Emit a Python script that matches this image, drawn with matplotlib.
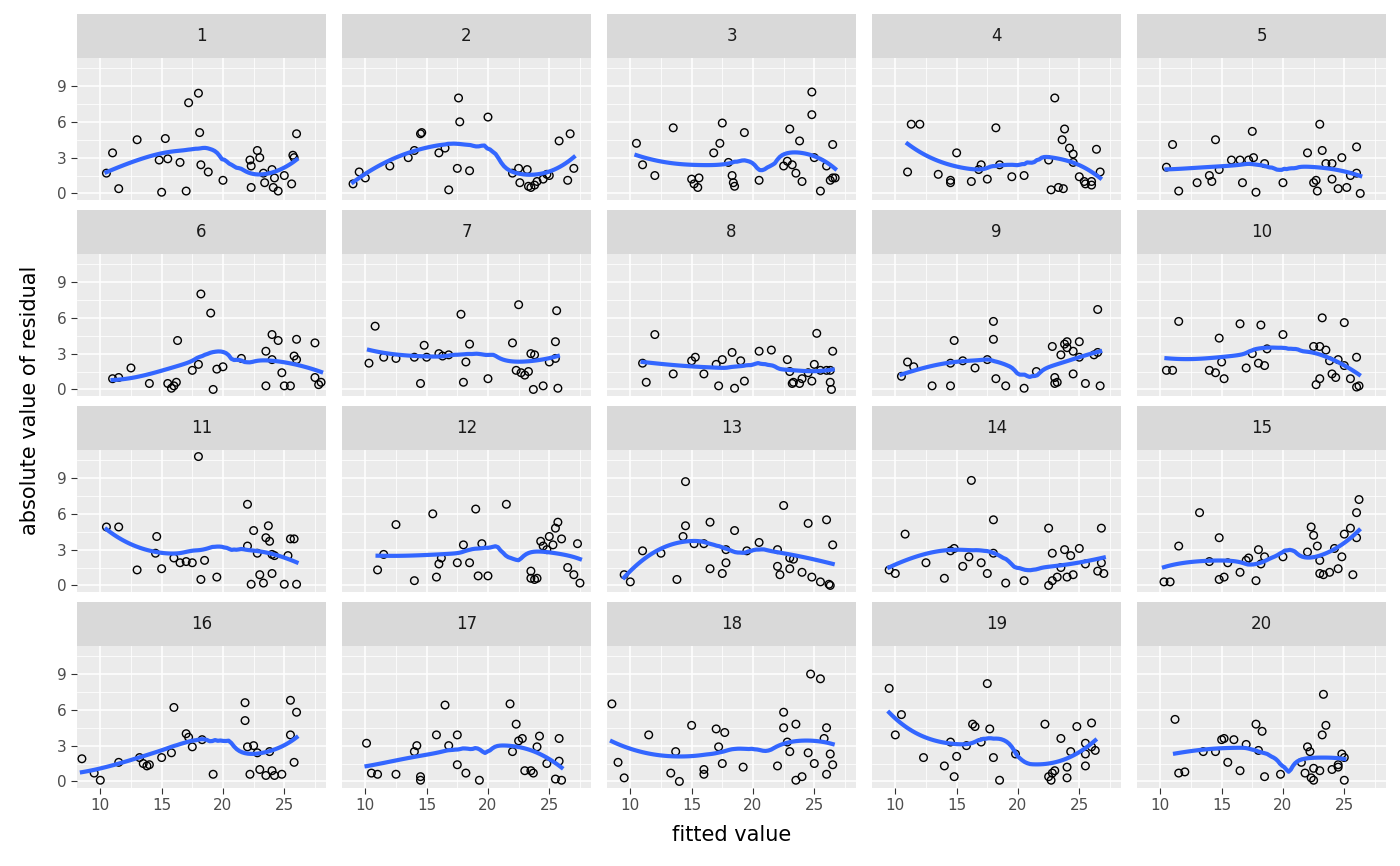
import numpy as np
import matplotlib.pyplot as plt

# fitted value / |residual| pairs per panel
fit = {}
res = {}
fit[1] = [10.5,11,11.5,13,14.8,15,15.3,15.5,16.5,17,17.2,18,18.1,18.2,18.8,20,22.2,22.3,22.3,22.8,23,23.3,23.4,24,24.1,24.5,25,25.7,25.8,25.6,26,24.2]
res[1] = [1.7,3.4,0.4,4.5,2.8,0.1,4.6,2.9,2.6,0.2,7.6,8.4,5.1,2.4,1.8,1.1,2.8,0.5,2.3,3.6,3.0,1.7,0.9,2.0,0.5,0.2,1.5,3.2,3.0,0.8,5.0,1.3]
fit[2] = [9,9.5,10,12,13.5,14,14.5,14.6,16,16.5,16.8,17.5,17.6,17.7,18.5,20,22,22.5,22.6,23.2,23.5,23.8,24,24.5,24.8,25,25.8,26.5,26.7,27,23.3]
res[2] = [0.8,1.8,1.3,2.3,3.0,3.6,5.0,5.1,3.4,3.8,0.3,2.1,8.0,6.0,1.9,6.4,1.7,2.1,0.9,2.0,0.5,0.7,1.0,1.2,1.6,1.5,4.4,1.1,5.0,2.1,0.6]
fit[3] = [10.5,11,12,13.5,15,15.2,15.5,15.6,16.8,17.3,17.5,18,18.3,18.4,18.5,19.3,20.5,22.5,22.8,23,23.2,23.5,23.8,24,24.8,24.8,25,25.5,26,26.3,26.5,26.5,26.7]
res[3] = [4.2,2.4,1.5,5.5,1.2,0.8,0.5,1.3,3.4,4.2,5.9,2.6,1.5,0.9,0.6,5.1,1.1,2.3,2.7,5.4,2.4,1.7,4.4,1.0,8.5,6.6,3.0,0.2,2.3,1.1,1.3,4.1,1.3]
fit[4] = [11,11.3,12,13.5,14.5,14.5,15,16.2,16.8,17,17.5,18.2,18.5,19.5,20.5,22.5,22.7,23,23.3,23.7,23.6,23.8,24.2,24.5,24.5,25,25.5,26,26,26.4,26.7,25.4]
res[4] = [1.8,5.8,5.8,1.6,1.1,0.9,3.4,1.0,2.0,2.4,1.2,5.5,2.4,1.4,1.5,2.8,0.3,8.0,0.5,0.4,4.5,5.4,3.8,3.3,2.6,1.4,0.8,1.0,0.7,3.7,1.8,1.0]
fit[5] = [10.5,11,11.5,13,14,14.2,14.5,14.8,15.8,16.5,16.7,17.2,17.5,17.6,17.8,18.5,20,22,22.5,22.7,22.8,23,23.2,23.5,24,24.5,24.8,25.2,25.5,26,26,26.3,24]
res[5] = [2.2,4.1,0.2,0.9,1.5,1.0,4.5,2.0,2.8,2.8,0.9,2.8,5.2,3.0,0.1,2.5,0.9,3.4,0.9,1.1,0.2,5.8,3.6,2.5,1.2,0.4,3.0,0.5,1.5,1.7,3.9,0.0,2.5]
fit[6] = [11,11.5,12.5,14,15.5,15.8,16,16.2,16.3,17.5,18,18.2,19,19.2,19.5,20,21.5,23.5,23.5,24,24,24.5,24.8,25,25.5,25.8,26,26,27.5,27.5,27.8,28]
res[6] = [0.9,1.0,1.8,0.5,0.5,0.1,0.3,0.6,4.1,1.6,2.1,8.0,6.4,0.0,1.7,1.9,2.6,3.2,0.3,4.6,2.5,4.1,1.4,0.3,0.3,2.8,4.2,2.5,3.9,1.0,0.4,0.6]
fit[7] = [10.3,10.8,11.5,12.5,14,14.5,14.8,15,16,16.3,16.8,17.8,18,18.2,18.5,20,22,22.3,22.5,22.7,23,23.3,23.5,23.7,23.8,24.5,25,25.5,25.6,25.7,25.5]
res[7] = [2.2,5.3,2.7,2.6,2.7,0.5,3.7,2.7,3.0,2.8,2.9,6.3,0.6,2.3,3.8,0.9,3.9,1.6,7.1,1.4,1.2,1.5,3.0,0.0,2.9,0.3,2.3,4.0,6.6,0.1,2.6]
fit[8] = [11,11.3,12,13.5,15,15.3,16,17,17.2,17.5,18.3,18.5,19,19.3,20.5,21.5,22.8,23,23.2,23.3,23.8,24,24.5,24.8,25,25.2,25.5,26,26.3,26.4,26.5,26.3]
res[8] = [2.2,0.6,4.6,1.3,2.4,2.7,1.3,2.1,0.3,2.5,3.1,0.1,2.4,0.7,3.2,3.3,2.5,1.5,0.5,0.6,0.5,0.9,1.4,0.7,2.1,4.7,1.6,1.6,0.6,0.0,3.2,1.6]
fit[9] = [10.5,11,11.5,13,14.5,14.5,14.8,15.5,16.5,17.5,18,18,18.2,19,20.5,21.5,22.8,23,23,23.2,23.5,23.8,24,24,24.5,24.5,25,25,25.5,26.2,26.5,26.7,26.5]
res[9] = [1.1,2.3,1.9,0.3,0.3,2.2,4.1,2.4,1.8,2.5,5.7,4.2,0.9,0.3,0.1,1.5,3.6,1.0,0.5,0.6,2.9,3.8,4.0,3.5,3.2,1.3,2.7,4.0,0.5,2.9,6.7,0.3,3.1]
fit[10] = [10.5,11,11.5,14,14.5,14.8,15,15.2,16.5,17,17.5,18,18.2,18.5,18.7,20,22.5,22.7,23,23,23.2,23.5,23.8,24,24.3,24.5,25,25,25.5,26,26,26.2]
res[10] = [1.6,1.6,5.7,1.6,1.4,4.3,2.3,0.9,5.5,1.8,3.0,2.2,5.4,2.0,3.4,4.6,3.6,0.4,0.9,3.6,6.0,3.3,2.4,1.3,1.0,2.5,5.6,2.0,0.9,2.7,0.2,0.3]
fit[11] = [10.5,11.5,13,14.5,14.6,15,16,16.5,17,17.5,18,18.2,18.5,19.5,22,22,22.3,22.5,22.8,23,23.3,23.5,23.7,24,24,24.2,25,25.3,25.5,25.8,26,23.8]
res[11] = [4.9,4.9,1.3,2.7,4.1,1.4,2.3,1.9,2.0,1.9,10.8,0.5,2.1,0.7,6.8,3.3,0.1,4.6,2.7,0.9,0.2,4.0,5.0,2.6,1.0,2.5,0.1,2.5,3.9,3.9,0.1,3.7]
fit[12] = [11,11.5,12.5,14,15.5,15.8,16,16.2,17.5,18,18.5,19,19.2,19.5,20,21.5,23.5,23.5,23.8,24,24.3,24.5,24.8,25,25.3,25.5,25.7,26,26.5,27,27.3,27.5]
res[12] = [1.3,2.6,5.1,0.4,6.0,0.7,1.8,2.3,1.9,3.4,1.9,6.4,0.8,3.5,0.8,6.8,1.2,0.6,0.5,0.6,3.7,3.3,3.0,4.1,3.4,4.8,5.3,3.9,1.5,0.9,3.5,0.2]
fit[13] = [9.5,10,11,12.5,13.8,14.3,14.5,14.5,15.2,16,16.5,16.5,17.5,17.8,17.8,18.5,19.5,20.5,22,22,22.2,22.5,23,23,23.3,24,24.5,24.8,25.5,26,26.2,26.5,26.3]
res[13] = [0.9,0.3,2.9,2.7,0.5,4.1,8.7,5.0,3.5,3.5,5.3,1.4,1.0,1.9,3.0,4.6,2.9,3.6,3.0,1.6,0.9,6.7,1.4,2.3,2.2,1.1,5.2,0.7,0.3,5.5,0.1,3.4,0.0]
fit[14] = [9.5,10,10.8,12.5,14,14.5,14.8,15.5,16,16.2,17,17.5,18,18,19,20.5,22.5,22.5,22.8,22.8,23.2,23.5,23.8,24,24.3,24.5,25,25.5,26.5,26.8,26.8,27]
res[14] = [1.3,1.0,4.3,1.9,0.6,2.9,3.1,1.6,2.4,8.8,1.9,1.0,5.5,2.7,0.2,0.4,4.8,0.0,0.4,2.7,0.7,1.5,3.0,0.7,2.5,0.9,3.1,1.8,1.2,4.8,1.9,1.0]
fit[15] = [10.3,10.8,11.5,13.2,14,14.8,14.8,15.2,15.5,16.5,17,17.2,17.8,18,18.2,18.5,20,22,22.3,22.5,22.8,23,23,23.3,23.8,24.2,24.5,24.8,25,25.5,25.7,26,26.2,26]
res[15] = [0.3,0.3,3.3,6.1,2.0,0.5,4.0,0.7,1.9,1.1,2.1,2.3,0.4,3.0,1.8,2.4,2.4,2.8,4.9,4.2,3.3,2.1,1.0,0.9,1.1,3.1,1.4,2.4,4.3,4.8,0.9,6.1,7.2,4.0]
fit[16] = [8.5,9.5,10,11.5,13.2,13.5,13.8,14,15,15.8,16,17,17.2,17.5,18.3,19.2,21.8,21.8,22,22.2,22.5,22.8,23,23.5,23.8,24,24.2,24.8,25.5,25.5,25.8,26]
res[16] = [1.9,0.7,0.1,1.6,2.0,1.5,1.3,1.4,2.0,2.4,6.2,4.0,3.7,2.9,3.5,0.6,6.6,5.1,2.9,0.6,3.0,2.4,1.0,0.5,2.5,0.9,0.5,0.6,3.9,6.8,1.6,5.8]
fit[17] = [10.1,10.5,11,12.5,14,14.2,14.5,14.5,15.8,16.5,16.8,17.5,17.5,18.2,19.3,21.8,22,22.3,22.5,22.8,23,23.5,23.7,24,24.2,24.8,25.5,25.8,25.8,26]
res[17] = [3.2,0.7,0.6,0.6,2.5,3.0,0.4,0.1,3.9,6.4,3.0,3.9,1.4,0.7,0.1,6.5,2.5,4.8,3.4,3.6,0.9,0.9,0.7,2.9,3.8,1.5,0.2,3.6,1.7,0.1]
fit[18] = [8.5,9,9.5,11.5,13.3,13.7,14,15,16,16,17,17.2,17.5,17.7,19.2,22,22.5,22.5,22.8,23,23.5,23.5,24,24.5,24.7,25,25.5,25.8,26,26,26.3,26.5]
res[18] = [6.5,1.6,0.3,3.9,0.7,2.5,0.0,4.7,0.6,1.0,4.4,2.9,1.5,4.1,1.2,1.3,5.8,4.5,3.3,2.5,0.1,4.8,0.4,2.4,9.0,1.5,8.6,3.6,4.5,0.6,2.3,1.4]
fit[19] = [9.5,10,10.5,12.3,14,14.5,14.8,15,15.8,16.3,16.5,17,17.5,17.7,18,18.5,19.8,22.2,22.5,22.7,22.8,23,23.5,24,24,24.3,24.8,25.5,25.5,26,26,26.3,25.5]
res[19] = [7.8,3.9,5.6,2.0,1.3,3.3,0.4,2.1,3.0,4.8,4.6,3.3,8.2,4.4,2.0,0.1,2.3,4.8,0.4,0.1,0.7,0.9,3.6,1.2,0.3,2.5,4.6,3.2,2.3,4.9,2.9,2.6,1.3]
fit[20] = [11.2,11.5,12,13.5,14.5,15,15.2,15.5,16,16.5,17,17.8,18,18.3,18.5,19.8,21.5,21.8,22,22.2,22.3,22.5,22.5,23,23.2,23.3,23.5,24,24.5,24.8,25,25,24.5]
res[20] = [5.2,0.7,0.8,2.5,2.5,3.5,3.6,1.6,3.5,0.9,3.1,4.8,2.6,4.2,0.4,0.6,1.6,0.7,2.9,2.5,0.3,1.1,0.1,0.9,3.9,7.3,4.7,1.0,1.2,2.3,2.0,0.1,1.4]

x_ticks = [10, 15, 20, 25]
y_ticks = [0, 3, 6, 9]


def loess(x, y, grid, span=0.75):
    # local quadratic fit with tricube weights, like ggplot's default smoother
    x = np.asarray(x, float)
    y = np.asarray(y, float)
    k = int(np.ceil(span * len(x)))
    out = []
    for g in grid:
        d = np.abs(x - g)
        h = np.sort(d)[k - 1]
        w = np.clip(1 - (d / h) ** 3, 0, None) ** 3
        A = np.vstack([np.ones_like(x), x - g, (x - g) ** 2]).T
        W = np.sqrt(w)
        coef = np.linalg.lstsq(A * W[:, None], y * W, rcond=None)[0]
        out.append(coef[0])
    return np.array(out)


W, H = 1400, 866
fig = plt.figure(figsize=(14, 8.66), dpi=100)
left0, pw, step_x = 77, 249, 265
top0, sh, ph, step_y = 14, 44, 142, 196

for i in range(20):
    n = i + 1
    r, c = divmod(i, 5)
    lx = left0 + c * step_x
    st = top0 + r * step_y
    # strip
    sax = fig.add_axes([lx / W, 1 - (st + sh) / H, pw / W, sh / H])
    sax.set_facecolor('#D9D9D9')
    sax.set_xticks([]); sax.set_yticks([])
    for s in sax.spines.values():
        s.set_visible(False)
    sax.text(0.5, 0.5, str(n), ha='center', va='center', fontsize=12, color='#1A1A1A')
    # panel
    ax = fig.add_axes([lx / W, 1 - (st + sh + ph) / H, pw / W, ph / H])
    ax.set_facecolor('#EBEBEB')
    for s in ax.spines.values():
        s.set_visible(False)
    ax.set_xlim(8.1, 28.4)
    ax.set_ylim(-0.55, 11.35)
    ax.set_xticks(x_ticks)
    ax.set_yticks(y_ticks)
    ax.set_xticks([12.5, 17.5, 22.5, 27.5], minor=True)
    ax.set_yticks([1.5, 4.5, 7.5, 10.5], minor=True)
    ax.grid(True, which='major', color='white', lw=1.1)
    ax.grid(True, which='minor', color='white', lw=0.55)
    ax.set_axisbelow(True)
    ax.tick_params(which='minor', length=0)
    ax.tick_params(which='major', length=4, color='#333333', labelcolor='#4D4D4D', labelsize=11)
    if r < 3:
        ax.tick_params(axis='x', labelbottom=False, length=0)
    if c > 0:
        ax.tick_params(axis='y', labelleft=False, length=0)
    x = np.array(fit[n]); y = np.array(res[n])
    ax.scatter(x, y, s=30, facecolors='none', edgecolors='black', linewidths=1.0, zorder=3)
    grid = np.linspace(x.min(), x.max(), 80)
    ax.plot(grid, loess(x, y, grid), color='#3366FF', lw=3, zorder=4)

fig.text((left0 + (4 * step_x + pw) / 2) / W, 1 - 835 / H, 'fitted value',
         ha='center', va='center', fontsize=15)
fig.text(30 / W, 1 - 400 / H, 'absolute value of residual', rotation=90,
         ha='center', va='center', fontsize=15)

fig.savefig('out.png', dpi=100, facecolor='white')
